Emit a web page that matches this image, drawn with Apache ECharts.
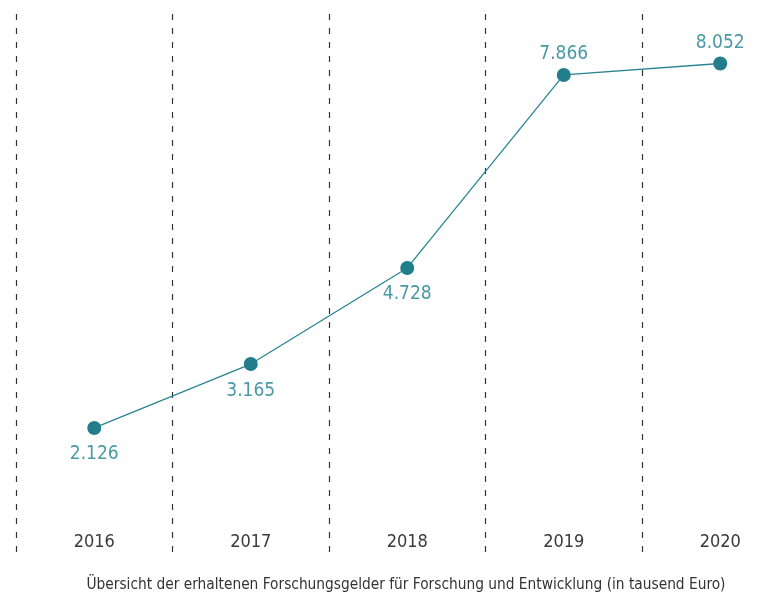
<!DOCTYPE html>
<html><head><meta charset="utf-8">
<script src="https://cdn.jsdelivr.net/npm/echarts@6/dist/echarts.min.js"></script>
<style>html,body{margin:0;padding:0;background:#fff}#c{width:780px;height:595px}</style>
</head><body><div id="c"></div>
<script>
const years = ['2016','2017','2018','2019','2020'];
const values = [2.126, 3.165, 4.728, 7.866, 8.052];
const labelPos = ['bottom','bottom','bottom','top','top'];
const caption = 'Übersicht der erhaltenen Forschungsgelder für Forschung und Entwicklung (in tausend Euro)';
const FONT = '"DejaVu Sans Condensed", "DejaVu Sans", sans-serif';
const chart = echarts.init(document.getElementById('c'));
chart.setOption({
  animation: false,
  title: {
    text: caption, left: 401, textAlign: 'center', top: 573,
    textStyle: { fontFamily: FONT, fontSize: 15.3, fontWeight: 'normal', color: '#333' }
  },
  grid: { left: 16, width: 782.5, top: 14, bottom: 42, outerBoundsMode: 'none', containLabel: false },
  xAxis: {
    type: 'category', data: years, boundaryGap: true,
    axisLine: { show: false }, axisTick: { show: false },
    axisLabel: { inside: true, margin: 2, fontFamily: FONT, fontSize: 18, color: '#3a3a3a' },
    splitLine: { show: true, lineStyle: { color: '#333', width: 1.2, type: [6, 8] } }
  },
  yAxis: {
    type: 'value', min: 0.093, max: 8.857, show: false, splitLine: { show: false }
  },
  series: [{
    type: 'line', symbol: 'circle', symbolSize: 14,
    lineStyle: { color: '#2a8592', width: 1.3 },
    itemStyle: { color: '#217e8a' },
    data: values.map((v, i) => ({
      value: v,
      label: { show: true, position: labelPos[i], distance: labelPos[i] === 'top' ? 4 : 10,
        formatter: () => v.toFixed(3), fontFamily: FONT, fontSize: 19, color: '#4b99a5' }
    }))
  }]
});
</script></body></html>
